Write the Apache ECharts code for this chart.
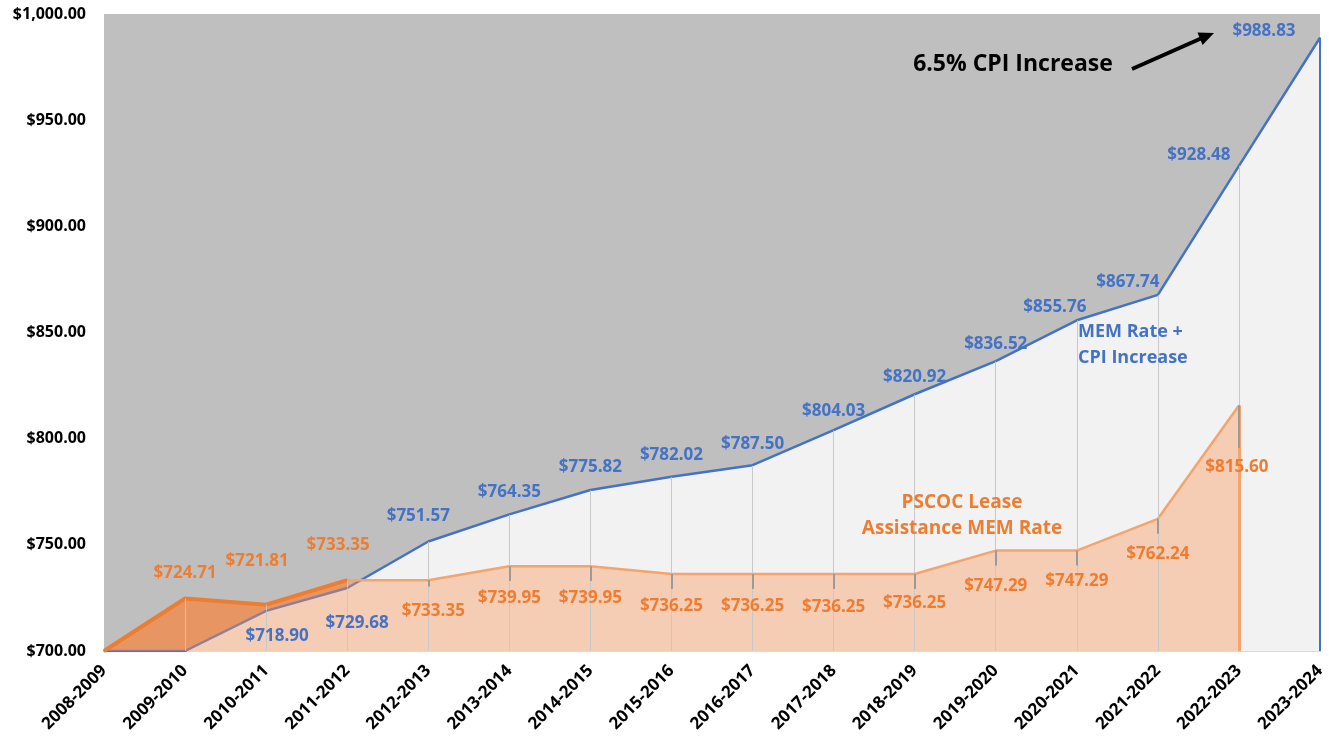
<!DOCTYPE html>
<html>
<head>
<meta charset="utf-8">
<script src="https://cdn.jsdelivr.net/npm/echarts@6/dist/echarts.min.js"></script>
<style>
html,body{margin:0;padding:0;background:#fff;}
#c{width:1329px;height:738px;}
</style>
</head>
<body>
<div id="c"></div>
<script>
const categories = ['2008-2009','2009-2010','2010-2011','2011-2012','2012-2013','2013-2014','2014-2015','2015-2016','2016-2017','2017-2018','2018-2019','2019-2020','2020-2021','2021-2022','2022-2023','2023-2024'];
const memCpi = [700,700,718.90,729.68,751.57,764.35,775.82,782.02,787.50,804.03,820.92,836.52,855.76,867.74,928.48,988.83];
const pscocEarly = [700,724.71,721.81,733.35,null,null,null,null,null,null,null,null,null,null,null,null];
const pscocRate = [700,724.71,721.81,733.35,733.35,739.95,739.95,736.25,736.25,736.25,736.25,747.29,747.29,762.24,815.60,null];
const yTicks = [700,750,800,850,900,950,1000];

// label offsets (label centre relative to point), null = no label
const memOff = [null,null,[11,25],[10,35],[-10,-25],[0,-22],[0,-23],[0,-22],[0,-21],[0,-19],[0,-17],[0,-17],[-22,-13],[-30,-13],[-40,-11],[-56,-7]];
const rateOff = [null,[0,-25],[-9,-44],[-9,-35],[5,31],[0,32],[0,32],[0,32],[0,32],[0,33],[0,29],[0,36],[0,31],[0,35],[-2,62],null];
// leader line length below orange points (value units)
const rateLeader = [0,0,0,0,3,7,7,7,7,7,7,7,7,7,20,0];

const FONT = '"Open Sans", sans-serif';
const BLUE = '#4472c4';
const ORANGE = '#ed7d31';

function money(v){
  return '$' + v.toFixed(2).replace(/\B(?=(\d{3})+(?!\d))/g, ',');
}
function fmt(off){
  return p => (off[p.dataIndex] ? money(p.value) : '');
}
function lay(off){
  return p => { const o = off[p.dataIndex]; return o ? {dx:o[0], dy:o[1]} : {}; };
}
const last = categories.length-1;
const combinedMax = categories.map((c,i)=>Math.max(memCpi[i], pscocRate[i]||0));
const dropLines = [];
for (let i=1;i<last;i++){
  dropLines.push([{coord:[categories[i],yTicks[0]]},{coord:[categories[i],combinedMax[i]]}]);
}
const leaders = [];
for (let i=0;i<last;i++){
  if (rateLeader[i]) leaders.push([{coord:[categories[i],pscocRate[i]]},{coord:[categories[i],pscocRate[i]-rateLeader[i]]}]);
}
const labelBase = {show:true, position:'inside', fontFamily:FONT, fontWeight:'bold', fontSize:17};

function labelSeries(name, data, color, off){
  return {
    name:name, type:'line', data:data, z:10, silent:true,
    symbol:'circle', symbolSize:1, showSymbol:true,
    itemStyle:{color:color}, lineStyle:{opacity:0},
    label:Object.assign({},labelBase,{color:color,formatter:fmt(off)}),
    labelLayout:lay(off)
  };
}

const chart = echarts.init(document.getElementById('c'));
chart.setOption({
  animation:false,
  grid:{left:104,right:9,top:14,bottom:87,show:true,backgroundColor:'#bfbfbf',borderWidth:0},
  xAxis:{
    type:'category', data:categories, boundaryGap:false,
    axisLine:{show:true,lineStyle:{color:'#d9d9d9',width:2}},
    axisTick:{show:false},
    axisLabel:{rotate:45,fontFamily:FONT,fontWeight:'bold',fontSize:17,color:'#000',margin:17,interval:0},
    splitLine:{show:false}
  },
  yAxis:{
    type:'value', min:yTicks[0], max:yTicks[yTicks.length-1], interval:50,
    axisLine:{show:false}, axisTick:{show:false}, splitLine:{show:false},
    axisLabel:{formatter:v=>money(v),fontFamily:FONT,fontWeight:'bold',fontSize:16,color:'#000',margin:18}
  },
  series:[
    {
      name:'early area', type:'line', data:pscocEarly, z:1, silent:true,
      symbol:'none', lineStyle:{width:0},
      areaStyle:{color:'rgba(237,125,49,0.6)',opacity:1}
    },
    {
      name:'MEM Rate + CPI Increase', type:'line', data:memCpi, z:2, silent:true,
      symbol:'none',
      lineStyle:{color:BLUE,width:2.5},
      areaStyle:{color:'#f2f2f2',opacity:1},
      markLine:{
        silent:true, symbol:'none', label:{show:false},
        data:dropLines.concat([[{coord:[categories[last],yTicks[0]],lineStyle:{color:BLUE,width:2}},{coord:[categories[last],memCpi[last]]}]]),
        lineStyle:{color:'#c8c8c8',width:1,type:'solid'}
      }
    },
    {
      name:'PSCOC Lease Assistance MEM Rate', type:'line', data:pscocRate, z:3, silent:true,
      symbol:'none',
      lineStyle:{color:'#f4a46c',width:2.5},
      areaStyle:{color:'rgba(250,150,90,0.4)',opacity:1},
      markLine:{
        silent:true, symbol:'none', label:{show:false},
        data:[[{coord:[categories[last-1],yTicks[0]]},{coord:[categories[last-1],pscocRate[last-1]]}]]
          .concat(leaders.map(l=>[Object.assign({lineStyle:{color:'#9a9a9a',width:2}},l[0]),l[1]])),
        lineStyle:{color:'#f4a46c',width:3,type:'solid'}
      }
    },
    {
      name:'PSCOC early line', type:'line', data:pscocEarly, z:4, silent:true,
      symbol:'none',
      lineStyle:{color:ORANGE,width:4}
    },
    labelSeries('MEM labels', memCpi, BLUE, memOff),
    labelSeries('PSCOC labels', pscocRate, ORANGE, rateOff)
  ],
  graphic:[
    {type:'text',z:100,x:1013,y:64,style:{text:'6.5% CPI Increase',fontFamily:FONT,fontWeight:'bold',fontSize:23,fill:'#000',align:'center',verticalAlign:'middle'}},
    {type:'line',z:100,shape:{x1:1132,y1:69,x2:1202,y2:38},style:{stroke:'#000',lineWidth:4}},
    {type:'polygon',z:100,shape:{points:[[1214,33],[1202.6,45],[1197.5,32.5]]},style:{fill:'#000'}},
    {type:'text',z:100,x:1078,y:319,style:{text:'MEM Rate +\nCPI Increase',fontFamily:FONT,fontWeight:'bold',fontSize:18,lineHeight:26,fill:BLUE}},
    {type:'text',z:100,x:962,y:490,style:{text:'PSCOC Lease\nAssistance MEM Rate',fontFamily:FONT,fontWeight:'bold',fontSize:19,lineHeight:26,fill:ORANGE,align:'center'}}
  ]
});
</script>
</body>
</html>
